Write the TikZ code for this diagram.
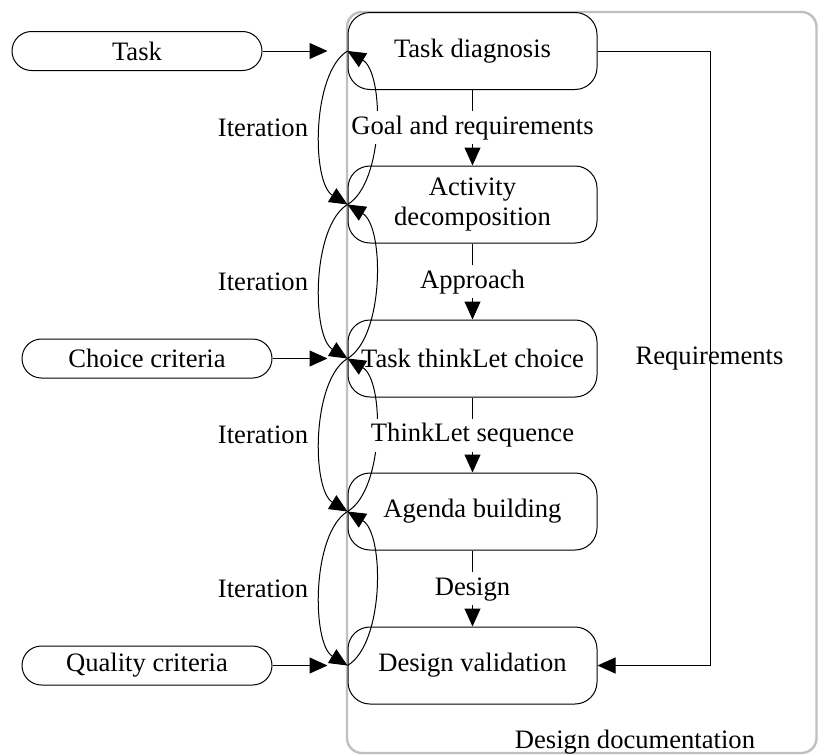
\documentclass[tikz,border=0pt]{standalone}
\usepackage{fontspec}
\setmainfont{Liberation Serif}
\usetikzlibrary{arrows.meta}
\definecolor{framegray}{RGB}{192,192,192}
\begin{document}
\begin{tikzpicture}[x=0.5pt,y=-0.5pt,
  font=\fontsize{13.3}{15}\selectfont,
  stage/.style={draw, line width=0.5pt, fill=white, rounded corners=11pt,
    minimum width=124.5pt, minimum height=38.5pt, align=center, inner sep=1pt},
  source/.style={draw, line width=0.5pt, fill=white, rounded corners=9.75pt,
    minimum width=125pt, minimum height=19.5pt, inner sep=1pt},
  frame/.style={draw=framegray, line width=1.2pt, rounded corners=7.5pt,
    minimum width=234.75pt, minimum height=370.5pt, inner sep=0pt},
  flow/.style={line width=0.5pt, -{Triangle[length=9pt,width=8pt]}},
  tag/.style={fill=white, inner xsep=0.5pt, inner ysep=2pt,
    text height=9.5pt, text depth=3pt},
  plain/.style={inner sep=1pt}
]
\useasboundingbox (0,0) rectangle (818,755);

% documentation container
\node[frame] (doc) at (581.75,382.5) {};
\node[plain] (doclabel) at (635,742) {Design documentation};

% design stages
\node[stage] (td) at (472.5,51)    {Task diagnosis};
\node[stage] (ad) at (472.5,204.5) {Activity\\decomposition};
\node[stage] (tc) at (472.5,358.5) {Task thinkLet choice};
\node[stage] (ab) at (472.5,511.5) {Agenda building};
\node[stage] (dv) at (472.5,665.5) {Design validation};

% inputs
\node[source] (task) at (137,51)    {Task};
\node[source] (cc)   at (147,358.5) {Choice criteria};
\node[source] (qc)   at (147,665.5) {Quality criteria};

\draw[flow] (task.east) -- ([xshift=-10pt]td.west);
\draw[flow] (cc.east)   -- ([xshift=-10pt]tc.west);
\draw[flow] (qc.east)   -- ([xshift=-10pt]dv.west);

% iteration loops between consecutive stages
\foreach \a/\b/\y in {td/ad/128, ad/tc/281.5, tc/ab/435, ab/dv/588.5} {
  \draw[flow] (\a.west) .. controls +(-36,22) and +(-36,-22) .. (\b.west);
  \draw[flow] (\b.west) .. controls +(37,-22) and +(37,22) .. (\a.west);
  \node[plain] (it\a) at (263,\y) {Iteration};
}

% main flow
\draw[flow] (td) -- node[tag] (l1) {Goal and requirements} (ad);
\draw[flow] (ad) -- node[tag] (l2) {Approach} (tc);
\draw[flow] (tc) -- node[tag] (l3) {ThinkLet sequence} (ab);
\draw[flow] (ab) -- node[tag] (l4) {Design} (dv);

% requirements feed to validation
\coordinate (rq) at (710,0);
\draw[flow] (td.east) -- (td.east -| rq) -- (rq |- dv.east) -- (dv.east);
\node[plain] (rqlabel) at (709.5,358.5) {Requirements};
\end{tikzpicture}
\end{document}
